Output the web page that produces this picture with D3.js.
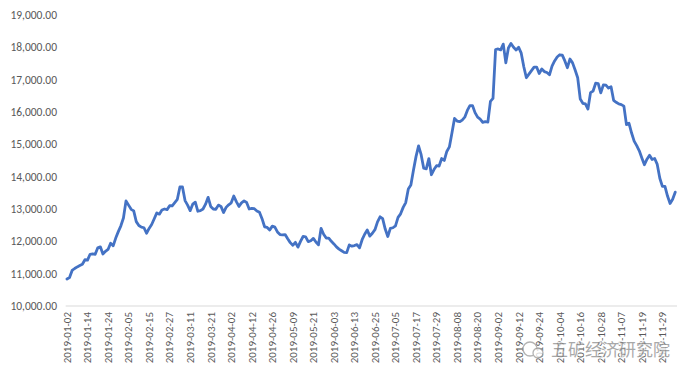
<!DOCTYPE html>
<html><head><meta charset="utf-8">
<script src="https://cdn.jsdelivr.net/npm/d3@7"></script>
<style>html,body{margin:0;padding:0;background:#fff;}svg{display:block;}</style>
</head><body><svg id="c" width="690" height="382"></svg>
<script>
const dates = [
"2019-01-02","2019-01-03","2019-01-04","2019-01-07","2019-01-08","2019-01-09","2019-01-10","2019-01-11","2019-01-14","2019-01-15","2019-01-16","2019-01-17","2019-01-18","2019-01-21","2019-01-22","2019-01-23","2019-01-24","2019-01-25","2019-01-28","2019-01-29","2019-01-30","2019-01-31",
"2019-02-01","2019-02-04","2019-02-05","2019-02-06","2019-02-07","2019-02-08","2019-02-11","2019-02-12","2019-02-13","2019-02-14","2019-02-15","2019-02-18","2019-02-19","2019-02-20","2019-02-21","2019-02-22","2019-02-25","2019-02-26","2019-02-27","2019-02-28",
"2019-03-01","2019-03-04","2019-03-05","2019-03-06","2019-03-07","2019-03-08","2019-03-11","2019-03-12","2019-03-13","2019-03-14","2019-03-15","2019-03-18","2019-03-19","2019-03-20","2019-03-21","2019-03-22","2019-03-25","2019-03-26","2019-03-27","2019-03-28","2019-03-29",
"2019-04-01","2019-04-02","2019-04-03","2019-04-04","2019-04-05","2019-04-08","2019-04-09","2019-04-10","2019-04-11","2019-04-12","2019-04-15","2019-04-16","2019-04-17","2019-04-18","2019-04-23","2019-04-24","2019-04-25","2019-04-26","2019-04-29","2019-04-30",
"2019-05-01","2019-05-02","2019-05-03","2019-05-07","2019-05-08","2019-05-09","2019-05-10","2019-05-13","2019-05-14","2019-05-15","2019-05-16","2019-05-17","2019-05-20","2019-05-21","2019-05-22","2019-05-23","2019-05-24","2019-05-28","2019-05-29","2019-05-30","2019-05-31",
"2019-06-03","2019-06-04","2019-06-05","2019-06-06","2019-06-07","2019-06-10","2019-06-11","2019-06-12","2019-06-13","2019-06-14","2019-06-17","2019-06-18","2019-06-19","2019-06-20","2019-06-21","2019-06-24","2019-06-25","2019-06-26","2019-06-27","2019-06-28",
"2019-07-01","2019-07-02","2019-07-03","2019-07-04","2019-07-05","2019-07-08","2019-07-09","2019-07-10","2019-07-11","2019-07-12","2019-07-15","2019-07-16","2019-07-17","2019-07-18","2019-07-19","2019-07-22","2019-07-23","2019-07-24","2019-07-25","2019-07-26","2019-07-29","2019-07-30","2019-07-31",
"2019-08-01","2019-08-02","2019-08-05","2019-08-06","2019-08-07","2019-08-08","2019-08-09","2019-08-12","2019-08-13","2019-08-14","2019-08-15","2019-08-16","2019-08-19","2019-08-20","2019-08-21","2019-08-22","2019-08-23","2019-08-27","2019-08-28","2019-08-29","2019-08-30",
"2019-09-02","2019-09-03","2019-09-04","2019-09-05","2019-09-06","2019-09-09","2019-09-10","2019-09-11","2019-09-12","2019-09-13","2019-09-16","2019-09-17","2019-09-18","2019-09-19","2019-09-20","2019-09-23","2019-09-24","2019-09-25","2019-09-26","2019-09-27","2019-09-30",
"2019-10-01","2019-10-02","2019-10-03","2019-10-04","2019-10-07","2019-10-08","2019-10-09","2019-10-10","2019-10-11","2019-10-14","2019-10-15","2019-10-16","2019-10-17","2019-10-18","2019-10-21","2019-10-22","2019-10-23","2019-10-24","2019-10-25","2019-10-28","2019-10-29","2019-10-30","2019-10-31",
"2019-11-01","2019-11-04","2019-11-05","2019-11-06","2019-11-07","2019-11-08","2019-11-11","2019-11-12","2019-11-13","2019-11-14","2019-11-15","2019-11-18","2019-11-19","2019-11-20","2019-11-21","2019-11-22","2019-11-25","2019-11-26","2019-11-27","2019-11-28","2019-11-29",
"2019-12-02","2019-12-03","2019-12-04","2019-12-05","2019-12-06"
];
const prices = [
10836,10880,11100,11160,11210,11250,11290,11430,11420,11600,11610,11600,11800,11830,11610,11690,11750,11940,11860,12100,12300,12480,
12720,13250,13120,12990,12940,12610,12490,12440,12420,12250,12400,12520,12700,12880,12840,12970,13000,12980,13100,13100,
13200,13300,13680,13680,13260,13120,12950,13150,13210,12930,12950,13000,13150,13360,13080,13000,12990,13120,13080,
12890,13050,13130,13190,13400,13230,13080,13190,13250,13200,13000,13020,13010,12940,12900,12700,12450,12430,12350,12470,
12440,12290,12210,12200,12210,12080,11960,11880,11970,11820,12000,12150,12140,11990,12020,12090,11980,11890,12400,12220,12100,
12100,12000,11920,11830,11760,11710,11660,11650,11890,11850,11870,11900,11800,12050,12220,12350,12160,12250,12360,12600,
12760,12700,12380,12150,12400,12420,12480,12740,12850,13050,13200,13620,13740,14200,14620,14950,14680,14260,14240,14560,14060,14220,14340,
14330,14560,14500,14780,14920,15350,15800,15720,15700,15750,15840,16050,16200,16200,15980,15840,15780,15680,15700,15690,16330,
16420,17930,17950,17920,18100,17520,17980,18120,18000,17920,18000,17820,17400,17060,17170,17280,17390,17390,17190,17330,17250,
17220,17150,17420,17580,17700,17770,17760,17580,17370,17640,17520,17300,17060,16400,16270,16250,16090,16600,16650,16890,16880,16590,16840,
16830,16740,16780,16360,16300,16250,16230,16180,15610,15650,15350,15100,14960,14800,14580,14370,14540,14660,14530,14560,14380,
13950,13700,13700,13400,13170,13300,13520
];
const yTicks = [10000,11000,12000,13000,14000,15000,16000,17000,18000,19000];
const labelEvery = 8;

const svg = d3.select("#c");
const x = d3.scaleBand().domain(dates).range([65.7, 676.5]).padding(0);
const y = d3.scaleLinear().domain([10000, 19000]).range([306, 15]);
const cx = d => x(d) + x.bandwidth()/2;
const font = "Calibri, Carlito, 'Liberation Sans', Arial, sans-serif";

// x axis line
svg.append("line").attr("x1", 65.7).attr("x2", 677).attr("y1", y(10000)).attr("y2", y(10000))
  .attr("stroke", "#d9d9d9").attr("stroke-width", 1);

// y labels
svg.append("g").selectAll("text").data(yTicks).join("text")
  .attr("x", 57).attr("y", d => y(d)).attr("dy", "0.35em")
  .attr("text-anchor", "end").attr("font-family", font)
  .attr("font-size", 11.5).attr("fill", "#595959")
  .text(d => d3.format(",.2f")(d));

// x labels
const lab = dates.filter((d, i) => i % labelEvery === 0);
svg.append("g").selectAll("text").data(lab).join("text")
  .attr("transform", d => `translate(${cx(d)},312) rotate(-90)`)
  .attr("dy", "0.35em").attr("text-anchor", "end")
  .attr("font-family", font)
  .attr("font-size", 11).attr("fill", "#595959")
  .text(d => d);

// line
const line = d3.line().x((d, i) => cx(dates[i])).y(d => y(d)).curve(d3.curveLinear);
svg.append("path").datum(prices).attr("d", line)
  .attr("fill", "none").attr("stroke", "#4472C4").attr("stroke-width", 2.8)
  .attr("stroke-linejoin", "round").attr("stroke-linecap", "round");

// watermark
const wm = svg.append("g").attr("opacity", 0.75);
wm.append("circle").attr("cx", 530).attr("cy", 349).attr("r", 7).attr("fill", "none").attr("stroke", "#9a9a9a").attr("stroke-width", 1.3);
wm.append("circle").attr("cx", 538).attr("cy", 353).attr("r", 5).attr("fill", "#fff").attr("stroke", "#9a9a9a").attr("stroke-width", 1.3);
wm.append("text").attr("x", 551).attr("y", 356).attr("font-family", "'Noto Sans CJK SC', sans-serif")
  .attr("font-size", 17).attr("fill", "#8c8c8c").attr("stroke", "#fff").attr("stroke-width", 2.5).attr("paint-order", "stroke")
  .text("五矿经济研究院");
</script></body></html>
